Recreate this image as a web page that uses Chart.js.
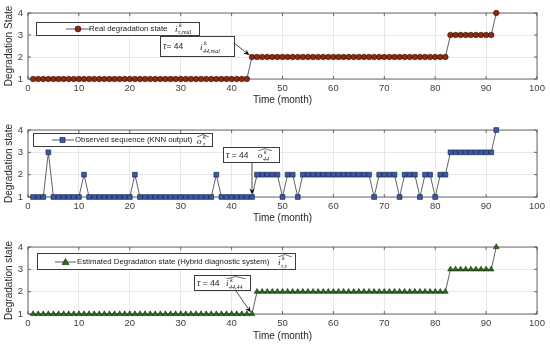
<!DOCTYPE html>
<html><head><meta charset="utf-8">
<script src="https://cdn.jsdelivr.net/npm/chart.js@4/dist/chart.umd.min.js"></script>
<style>
html,body{margin:0;padding:0;background:#fff;}
#wrap{position:relative;width:550px;height:346px;overflow:hidden;font-family:"Liberation Sans",Arial,sans-serif;-webkit-font-smoothing:antialiased;}
canvas{position:absolute;left:0;}
.box{position:absolute;background:#fff;border:1px solid #3c3c3c;box-sizing:border-box;white-space:nowrap;color:#1a1a1a;}
.box svg{position:absolute;}
.lt,.at,.mt{filter:grayscale(1);will-change:transform;}
.lt{position:absolute;font-size:7.8px;line-height:12px;top:0;}
.mt{position:absolute;font-family:"Liberation Serif","DejaVu Serif",serif;font-style:italic;color:#111;}
.mt .b{position:absolute;font-size:9px;line-height:9px;}
.mt .sp{position:absolute;font-size:6px;line-height:6px;}
.mt .sb{position:absolute;font-size:6px;line-height:6px;}
.at{position:absolute;font-size:8.5px;line-height:10px;}
.at i{font-family:"Liberation Serif",serif;font-size:9.5px;}
</style>
</head><body>
<div id="wrap">
  <canvas id="c1" width="550" height="112" style="top:0px"></canvas>
  <canvas id="c2" width="550" height="116" style="top:112px"></canvas>
  <canvas id="c3" width="550" height="118" style="top:228px"></canvas>

  <!-- legend 1 -->
  <div class="box" style="left:36px;top:22px;width:164px;height:14px;">
    <svg style="left:29px;top:0px" width="24" height="12"><line x1="0" y1="6" x2="24" y2="6" stroke="#333" stroke-width="0.8"/><circle cx="12" cy="6" r="3" fill="#8a2a10" stroke="#3a0c00" stroke-width="0.6"/></svg>
    <span class="lt" style="left:52px">Real degradation state</span>
    <span class="mt" style="left:138px;top:0px"><span class="b" style="left:0;top:2px">i</span><span class="sp" style="left:4px;top:-1px">k</span><span class="sb" style="left:3px;top:6px">τ,real</span></span>
  </div>
  <!-- annotation 1 -->
  <div class="box" style="left:160px;top:36px;width:75px;height:21px;">
    <span class="at" style="left:2px;top:4px"><i>τ</i>= 44</span>
    <span class="mt" style="left:39px;top:2px"><span class="b" style="left:0;top:4px">i</span><span class="sp" style="left:4px;top:1px">k</span><span class="sb" style="left:3px;top:9px">44,real</span></span>
  </div>

  <!-- legend 2 -->
  <div class="box" style="left:33px;top:133px;width:180px;height:14px;">
    <svg style="left:18px;top:0px" width="22" height="12"><line x1="0" y1="6" x2="22" y2="6" stroke="#333" stroke-width="0.8"/><rect x="8" y="3.5" width="5" height="5" fill="#3b58a6" stroke="#101c45" stroke-width="0.6"/></svg>
    <span class="lt" style="left:41px">Observed sequence (KNN output)</span>
    <span class="mt" style="left:163px;top:0px"><svg style="left:0;top:0" width="12" height="3"><polyline points="0,3 6,0.5 12,3" fill="none" stroke="#111" stroke-width="0.6"/></svg><span class="b" style="left:0;top:3px">o</span><span class="sp" style="left:6px;top:0px">k</span><span class="sb" style="left:6px;top:7px">τ</span></span>
  </div>
  <!-- annotation 2 -->
  <div class="box" style="left:223px;top:147px;width:57px;height:16px;">
    <span class="at" style="left:2px;top:2px"><i>τ</i> = 44</span>
    <span class="mt" style="left:34px;top:0px"><svg style="left:0;top:0" width="14" height="3"><polyline points="0,3 7,0.5 14,3" fill="none" stroke="#111" stroke-width="0.6"/></svg><span class="b" style="left:0;top:3px">o</span><span class="sp" style="left:6px;top:1px">k</span><span class="sb" style="left:5px;top:8px">44</span></span>
  </div>

  <!-- legend 3 -->
  <div class="box" style="left:37px;top:253px;width:259px;height:17px;">
    <svg style="left:17px;top:1px" width="21" height="12"><line x1="0" y1="7" x2="21" y2="7" stroke="#333" stroke-width="0.8"/><polygon points="10.5,3.5 14,9.5 7,9.5" fill="#2f6a1e" stroke="#0c2806" stroke-width="0.6"/></svg>
    <span class="lt" style="left:39px;top:2px">Estimated Degradation state (Hybrid diagnostic system)</span>
    <span class="mt" style="left:240px;top:0px"><svg style="left:0;top:0" width="14" height="3"><polyline points="0,3 7,0.5 14,3" fill="none" stroke="#111" stroke-width="0.6"/></svg><span class="b" style="left:0;top:4px">i</span><span class="sp" style="left:4px;top:1px">k</span><span class="sb" style="left:3px;top:9px">τ,τ</span></span>
  </div>
  <!-- annotation 3 -->
  <div class="box" style="left:194px;top:275px;width:57px;height:16px;">
    <span class="at" style="left:2px;top:2px"><i>τ</i> = 44</span>
    <span class="mt" style="left:31px;top:0px"><svg style="left:0;top:0" width="20" height="3"><polyline points="0,3 10,0.5 20,3" fill="none" stroke="#111" stroke-width="0.6"/></svg><span class="b" style="left:0;top:3px">i</span><span class="sp" style="left:4px;top:1px">k</span><span class="sb" style="left:3px;top:8px">44,44</span></span>
  </div>
</div>
<script>
// ---- data ----
const months = [1,2,3,4,5,6,7,8,9,10,11,12,13,14,15,16,17,18,19,20,21,22,23,24,25,26,27,28,29,30,
  31,32,33,34,35,36,37,38,39,40,41,42,43,44,45,46,47,48,49,50,51,52,53,54,55,56,57,58,59,60,
  61,62,63,64,65,66,67,68,69,70,71,72,73,74,75,76,77,78,79,80,81,82,83,84,85,86,87,88,89,90,91,92];
const realState = [1,1,1,1,1,1,1,1,1,1,1,1,1,1,1,1,1,1,1,1,1,1,1,1,1,1,1,1,1,1,
  1,1,1,1,1,1,1,1,1,1,1,1,1,2,2,2,2,2,2,2,2,2,2,2,2,2,2,2,2,2,
  2,2,2,2,2,2,2,2,2,2,2,2,2,2,2,2,2,2,2,2,2,2,3,3,3,3,3,3,3,3,3,4];
const observedState = [1,1,1,3,1,1,1,1,1,1,2,1,1,1,1,1,1,1,1,1,2,1,1,1,1,1,1,1,1,1,
  1,1,1,1,1,1,2,1,1,1,1,1,1,1,2,2,2,2,2,1,2,2,1,2,2,2,2,2,2,2,
  2,2,2,2,2,2,2,1,2,2,2,2,1,2,2,2,1,2,2,1,2,2,3,3,3,3,3,3,3,3,3,4];
const estimatedState = [1,1,1,1,1,1,1,1,1,1,1,1,1,1,1,1,1,1,1,1,1,1,1,1,1,1,1,1,1,1,
  1,1,1,1,1,1,1,1,1,1,1,1,1,1,2,2,2,2,2,2,2,2,2,2,2,2,2,2,2,2,
  2,2,2,2,2,2,2,2,2,2,2,2,2,2,2,2,2,2,2,2,2,2,3,3,3,3,3,3,3,3,3,4];
const xTicks = [0,10,20,30,40,50,60,70,80,90,100];
const yTicks = [1,2,3,4];
const tauMonth = 44;

const FONT = '"Liberation Sans", Arial, sans-serif';

function boxPlugin(arrow){
  return {
    id:'boxArrow',
    beforeDatasetsDraw(chart){
      const {ctx, chartArea:a, scales} = chart;
      ctx.save();
      ctx.strokeStyle = '#4a4a4a'; ctx.lineWidth = 0.8;
      ctx.strokeRect(a.left, a.top, a.right-a.left, a.bottom-a.top);
      ctx.beginPath();
      xTicks.forEach(v=>{const p=scales.x.getPixelForValue(v);
        ctx.moveTo(p,a.bottom); ctx.lineTo(p,a.bottom-3); ctx.moveTo(p,a.top); ctx.lineTo(p,a.top+3);});
      yTicks.forEach(v=>{const p=scales.y.getPixelForValue(v);
        ctx.moveTo(a.left,p); ctx.lineTo(a.left+3,p); ctx.moveTo(a.right,p); ctx.lineTo(a.right-3,p);});
      ctx.stroke();
      ctx.restore();
    },
    afterDatasetsDraw(chart){
      const {ctx, scales} = chart;
      const tx = scales.x.getPixelForValue(arrow.x), ty = scales.y.getPixelForValue(arrow.y);
      const sx = arrow.sx, sy = arrow.sy - arrow.top;
      const dx = tx - sx, dy = ty - sy, L = Math.hypot(dx,dy);
      const ux = dx/L, uy = dy/L;
      const ex = tx - ux*arrow.gap, ey = ty - uy*arrow.gap;
      const hl = 6, hw = 2.6;
      ctx.save();
      ctx.strokeStyle = '#222'; ctx.fillStyle = '#111'; ctx.lineWidth = 0.8;
      ctx.beginPath(); ctx.moveTo(sx,sy); ctx.lineTo(ex-ux*hl*0.8, ey-uy*hl*0.8); ctx.stroke();
      ctx.beginPath();
      ctx.moveTo(ex,ey);
      ctx.lineTo(ex-ux*hl - uy*hw, ey-uy*hl + ux*hw);
      ctx.lineTo(ex-ux*hl*0.7, ey-uy*hl*0.7);
      ctx.lineTo(ex-ux*hl + uy*hw, ey-uy*hl - ux*hw);
      ctx.closePath(); ctx.fill();
      ctx.restore();
    }
  };
}

function makeChart(id, cfg){
  const pts = months.map((m,i)=>({x:m, y:cfg.values[i]}));
  return new Chart(document.getElementById(id), {
    type:'line',
    data:{datasets:[{
      data:pts, borderColor:'#3a3a3a', borderWidth:0.8, tension:0, clip:false,
      pointStyle:cfg.pointStyle, pointRadius:cfg.radius, pointBackgroundColor:cfg.fill,
      pointBorderColor:cfg.edge, pointBorderWidth:0.6
    }]},
    options:{
      responsive:false, animation:false, devicePixelRatio:1,
      events:[],
      layout:{padding:{top:cfg.topPad, right:13, left:0, bottom:0}},
      plugins:{legend:{display:false}, tooltip:{enabled:false}},
      scales:{
        x:{type:'linear', min:0, max:100,
          afterFit:s=>{s.height = cfg.xAxisH;},
          afterBuildTicks:s=>{s.ticks = xTicks.map(v=>({value:v}));},
          grid:{color:'#e2e2e2', lineWidth:0.8, drawTicks:false},
          border:{display:false},
          ticks:{padding:4, color:'#404040', maxRotation:0, autoSkip:false, font:{family:FONT, size:9.5}},
          title:{display:true, text:'Time (month)', color:'#262626', font:{family:FONT, size:10}, padding:{top:0, bottom:cfg.titlePad}}
        },
        y:{type:'linear', min:1, max:4,
          afterFit:s=>{s.width = 28;},
          afterBuildTicks:s=>{s.ticks = yTicks.map(v=>({value:v}));},
          grid:{color:'#e2e2e2', lineWidth:0.8, drawTicks:false},
          border:{display:false},
          ticks:{padding:5, color:'#404040', font:{family:FONT, size:9.5}},
          title:{display:true, text:cfg.yTitle, color:'#262626', font:{family:FONT, size:10}, padding:{top:3, bottom:0}}
        }
      }
    },
    plugins:[boxPlugin(cfg.arrow)]
  });
}

makeChart('c1', {values:realState, pointStyle:'circle', radius:2.8, fill:'#8a2a10', edge:'#3a0c00',
  topPad:13, xAxisH:33, titlePad:6, yTitle:'Degradation State',
  arrow:{x:tauMonth, y:2, sx:234, sy:43, top:0, gap:3}});
makeChart('c2', {values:observedState, pointStyle:'rect', radius:3.4, fill:'#3b58a6', edge:'#101c45',
  topPad:18, xAxisH:31, titlePad:4, yTitle:'Degradation state',
  arrow:{x:tauMonth, y:1, sx:252, sy:163, top:112, gap:2.5}});
makeChart('c3', {values:estimatedState, pointStyle:'triangle', radius:3.2, fill:'#2f6a1e', edge:'#0c2806',
  topPad:19, xAxisH:32, titlePad:4, yTitle:'Degradation state',
  arrow:{x:tauMonth, y:1, sx:236, sy:291, top:228, gap:2}});
</script>
</body></html>
